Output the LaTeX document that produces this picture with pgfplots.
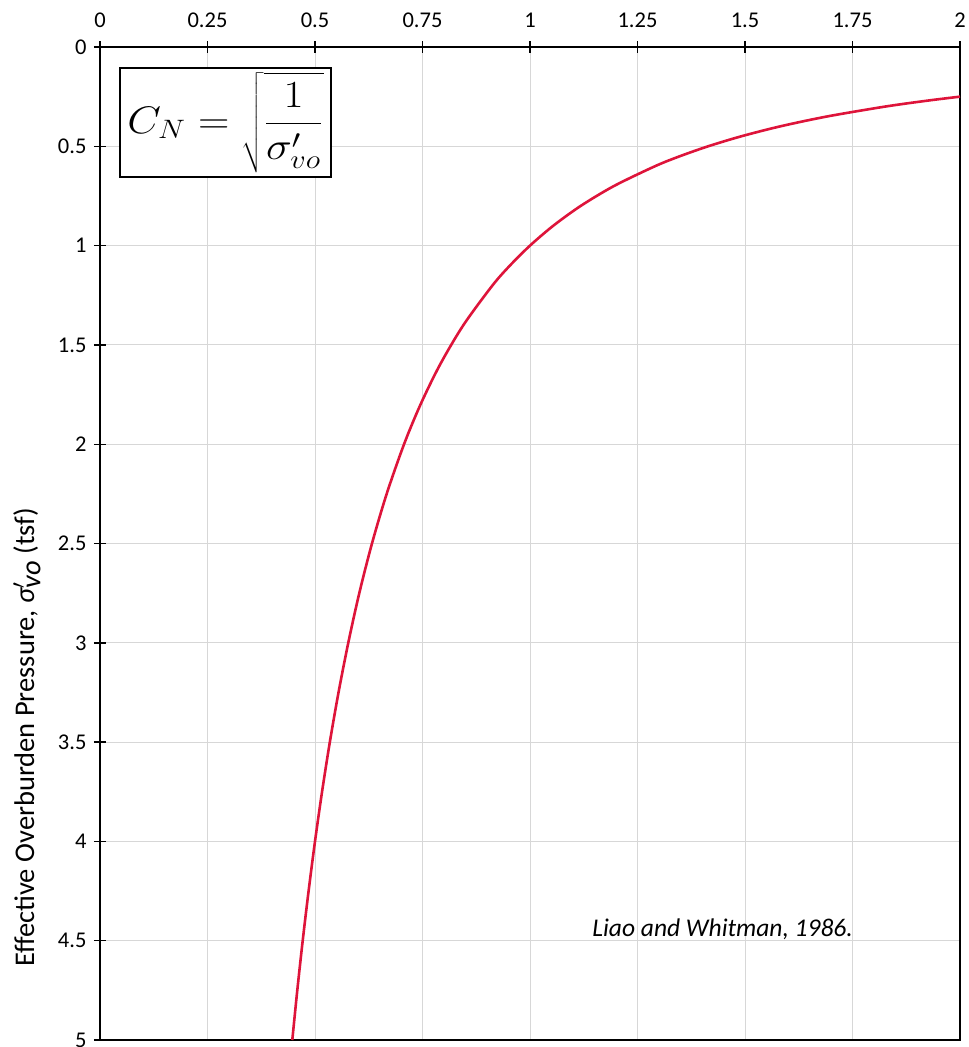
\documentclass[border=0pt]{standalone}
\usepackage{fontspec}
\setmainfont{Carlito}
\usepackage{pgfplots}
\pgfplotsset{compat=1.18}
\definecolor{curvered}{RGB}{222,20,58}
\definecolor{gridgray}{RGB}{215,215,215}
\begin{document}
\begin{tikzpicture}[x=1pt,y=1pt]
\begin{axis}[
  name=main,
  at={(0,0)}, anchor=south west,
  scale only axis,
  width=860pt, height=993pt,
  xmin=0, xmax=2, ymin=0, ymax=5,
  y dir=reverse,
  xtick={0,0.25,...,2},
  ytick={0,0.5,...,5},
  xticklabel pos=upper, xtick pos=upper,
  yticklabel pos=left, ytick pos=left,
  tick align=center,
  major tick length=12pt,
  axis line style={line width=1.6pt, black},
  every tick/.style={line width=1.4pt, black},
  grid=major,
  major grid style={line width=0.9pt, gridgray},
  tick label style={font=\fontsize{22.5}{26}\selectfont},
  /pgf/number format/assume math mode=true,
  xticklabel style={yshift=10pt},
  yticklabel style={xshift=-4pt},
  clip mode=individual,
]
\addplot[line width=2.6pt, curvered, smooth] coordinates {
(2.0000,0.25) (1.9245,0.27) (1.8257,0.30) (1.6903,0.35) (1.5811,0.40)
(1.4907,0.45) (1.4142,0.50) (1.3484,0.55) (1.2910,0.60) (1.1952,0.70)
(1.1180,0.80) (1.0541,0.90) (1.0000,1.00) (0.9535,1.10) (0.9129,1.20)
(0.8452,1.40) (0.7906,1.60) (0.7454,1.80) (0.7071,2.00) (0.6667,2.25)
(0.6325,2.50) (0.6030,2.75) (0.5774,3.00) (0.5547,3.25) (0.5345,3.50)
(0.5164,3.75) (0.5000,4.00) (0.4851,4.25) (0.4714,4.50) (0.4588,4.75)
(0.4472,5.00)
};
\node[draw=black, line width=1.6pt, fill=white, minimum width=211pt, minimum height=109pt, inner sep=0pt]
  at (axis description cs:0.146,0.924) {};
\node[xscale=2.1, yscale=1.85, anchor=center]
  at (axis description cs:0.146,0.924)
  {\fontsize{20}{24}\selectfont $\displaystyle C_N=\sqrt{\frac{1}{\sigma'_{vo}}}$};
\node[font=\fontsize{25.5}{28}\selectfont\itshape, anchor=center]
  at (axis description cs:0.724,0.112) {Liao and Whitman, 1986.};
\node[rotate=90, font=\fontsize{28.5}{32}\selectfont, anchor=center]
  at (axis description cs:-0.085,0.305)
  {Effective Overburden Pressure, {\itshape σ}$^{\prime}_{\textit{vo}}$ (tsf)};
\end{axis}
\pgfresetboundingbox
\path (-100pt,-7pt) rectangle (869pt,1040pt);
\end{tikzpicture}
\end{document}
